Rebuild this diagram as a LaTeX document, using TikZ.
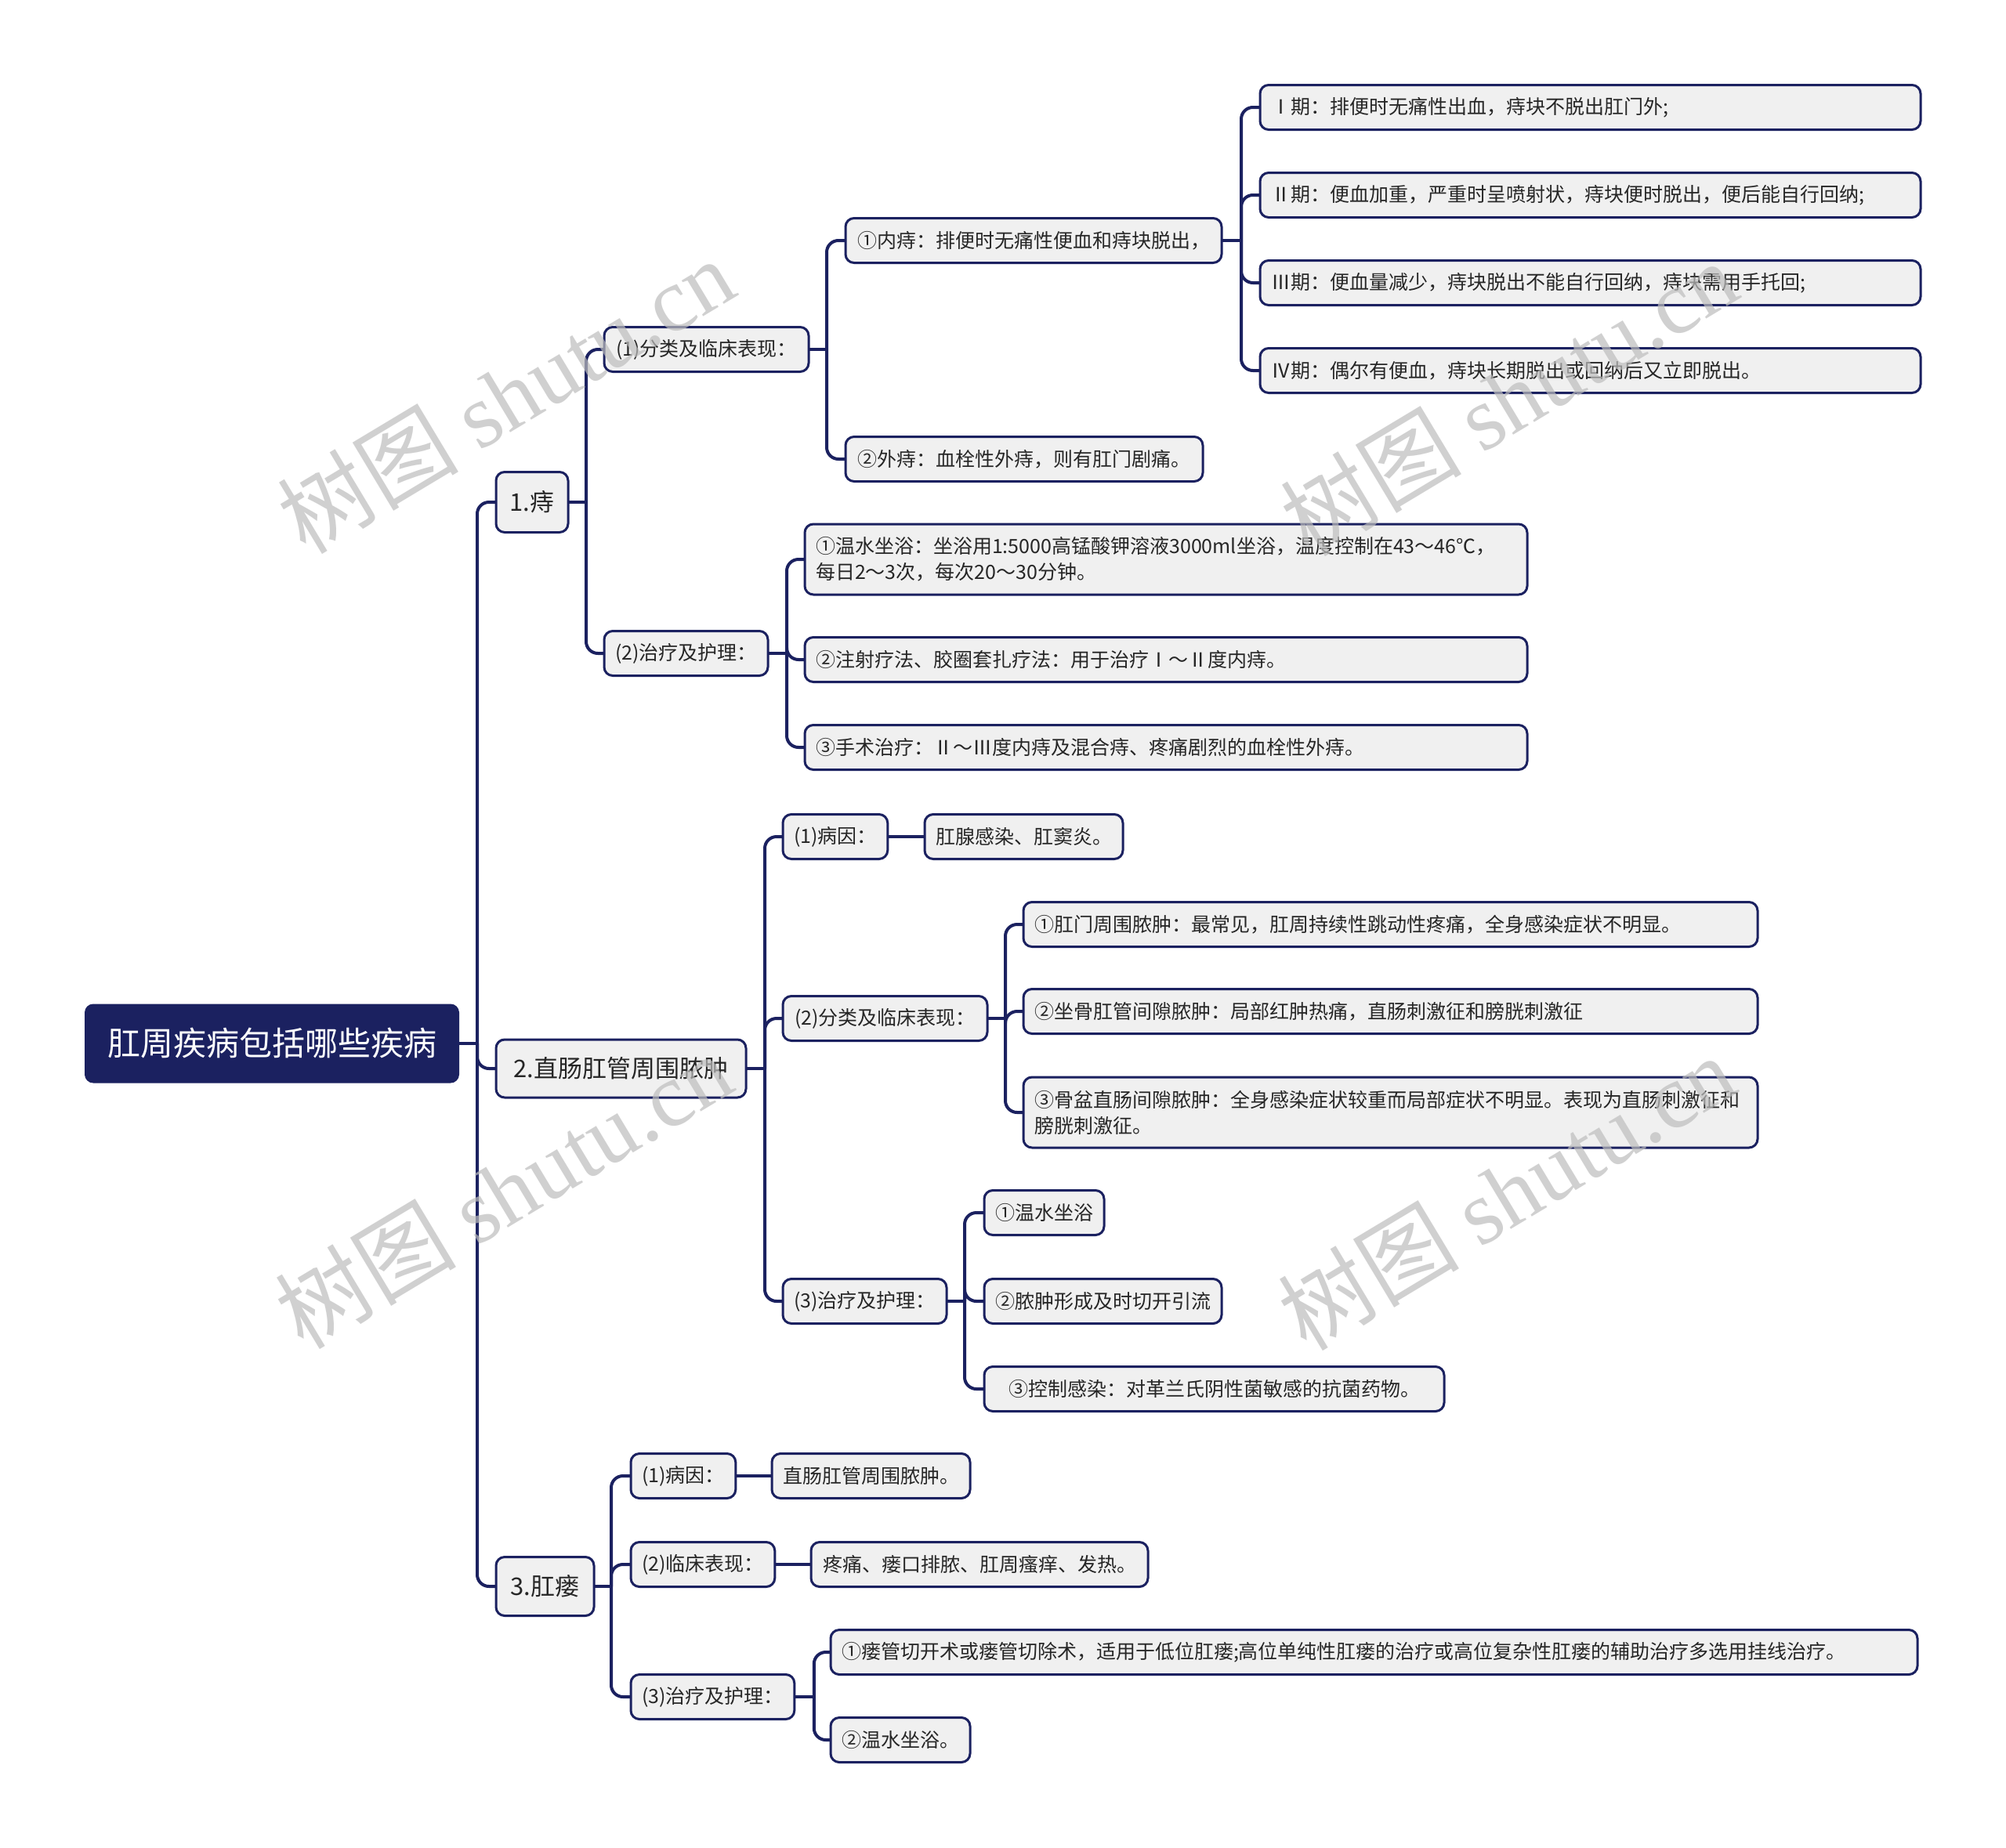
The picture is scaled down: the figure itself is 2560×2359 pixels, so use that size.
\documentclass[tikz,border=0pt]{standalone}
\usepackage{fontspec}
\setmainfont{Noto Sans CJK SC}
\newfontfamily\wmlatin{Liberation Serif}
\usetikzlibrary{backgrounds}
\definecolor{navy}{HTML}{1B2160}
\definecolor{boxfill}{HTML}{F0F0F0}
\definecolor{wmgray}{HTML}{BDBDBD}
\begin{document}
\begin{tikzpicture}[x=1pt,y=-1pt,
  base/.style={draw=navy, line width=3pt, fill=boxfill, rounded corners=11pt, anchor=west,
    outer sep=0pt, inner xsep=14pt, inner ysep=0pt, minimum height=57pt, text=black!85},
  leaf/.style={base, font=\fontsize{25}{33}\selectfont},
  wide/.style={leaf, align=left, text width=#1},
  topic/.style={base, font=\fontsize{31}{37}\selectfont, inner xsep=16pt},
  rootbox/.style={fill=navy, text=white, rounded corners=11pt, anchor=west, outer sep=0pt,
    font=\fontsize{42}{50}\selectfont},
  conn/.style={draw=navy, line width=4pt, rounded corners=15pt},
  wmark/.style={text=wmgray, opacity=0.7, rotate=31, font=\fontsize{116}{120}\selectfont}
]
\useasboundingbox (0,0) rectangle (2560,2359);

% root and main topics
\node[rootbox, minimum width=478pt, minimum height=101pt] (root) at (108,1332) {肛周疾病包括哪些疾病};
\node[topic, minimum width=92pt, minimum height=77pt] (L1a) at (633,641) {1.痔};
\node[topic, minimum width=319pt, minimum height=74pt] (L1b) at (633,1364) {2.直肠肛管周围脓肿};
\node[topic, minimum width=125pt, minimum height=75pt] (L1c) at (633,2025) {3.肛瘘};

% 1. 痔
\node[leaf, minimum width=261pt] (A1) at (771,446) {(1)分类及临床表现：};
\node[leaf, minimum width=209pt] (A2) at (771,834) {(2)治疗及护理：};
\node[leaf, minimum width=480pt] (A11) at (1079,307) {①内痔：排便时无痛性便血和痔块脱出，};
\node[leaf, minimum width=456pt] (A12) at (1079,586) {②外痔：血栓性外痔，则有肛门剧痛。};
\node[wide=815pt] (S1) at (1608,137) {Ⅰ期：排便时无痛性出血，痔块不脱出肛门外;};
\node[wide=815pt] (S2) at (1608,249) {Ⅱ期：便血加重，严重时呈喷射状，痔块便时脱出，便后能自行回纳;};
\node[wide=815pt] (S3) at (1608,361) {Ⅲ期：便血量减少，痔块脱出不能自行回纳，痔块需用手托回;};
\node[wide=815pt] (S4) at (1608,473) {Ⅳ期：偶尔有便血，痔块长期脱出或回纳后又立即脱出。};
\node[wide=894pt, minimum height=90pt] (A21) at (1027,714) {①温水坐浴：坐浴用1:5000高锰酸钾溶液3000ml坐浴，温度控制在43～46℃，\\每日2～3次，每次20～30分钟。};
\node[wide=894pt] (A22) at (1027,842) {②注射疗法、胶圈套扎疗法：用于治疗Ⅰ～Ⅱ度内痔。};
\node[wide=894pt] (A23) at (1027,954) {③手术治疗：Ⅱ～Ⅲ度内痔及混合痔、疼痛剧烈的血栓性外痔。};

% 2. 直肠肛管周围脓肿
\node[leaf, minimum width=132pt] (B1) at (999,1068) {(1)病因：};
\node[leaf, minimum width=252pt] (B11) at (1180,1068) {肛腺感染、肛窦炎。};
\node[leaf, minimum width=261pt] (B2) at (999,1300) {(2)分类及临床表现：};
\node[wide=909pt] (B21) at (1306,1180) {①肛门周围脓肿：最常见，肛周持续性跳动性疼痛，全身感染症状不明显。};
\node[wide=909pt] (B22) at (1306,1291) {②坐骨肛管间隙脓肿：局部红肿热痛，直肠刺激征和膀胱刺激征};
\node[wide=909pt, minimum height=90pt] (B23) at (1306,1420) {③骨盆直肠间隙脓肿：全身感染症状较重而局部症状不明显。表现为直肠刺激征和\\膀胱刺激征。};
\node[leaf, minimum width=209pt] (B3) at (999,1661) {(3)治疗及护理：};
\node[leaf, minimum width=150pt] (B31) at (1256,1548) {①温水坐浴};
\node[leaf, minimum width=303pt] (B32) at (1256,1661) {②脓肿形成及时切开引流};
\node[leaf, minimum width=587pt] (B33) at (1256,1773) {③控制感染：对革兰氏阴性菌敏感的抗菌药物。};

% 3. 肛瘘
\node[leaf, minimum width=132pt] (C1) at (805,1884) {(1)病因：};
\node[leaf, minimum width=251pt] (C11) at (985,1884) {直肠肛管周围脓肿。};
\node[leaf, minimum width=183pt] (C2) at (805,1997) {(2)临床表现：};
\node[leaf, minimum width=430pt] (C21) at (1035,1997) {疼痛、瘘口排脓、肛周瘙痒、发热。};
\node[leaf, minimum width=207pt] (C3) at (805,2166) {(3)治疗及护理：};
\node[wide=1359pt] (C31) at (1060,2109) {①瘘管切开术或瘘管切除术，适用于低位肛瘘;高位单纯性肛瘘的治疗或高位复杂性肛瘘的辅助治疗多选用挂线治疗。};
\node[leaf, minimum width=178pt] (C32) at (1060,2221) {②温水坐浴。};

% connectors
\begin{scope}[on background layer]
  \fill[white] (0,0) rectangle (2560,2359);
  \draw[conn] (root.east) -- ++(23,0) coordinate (t0);
  \foreach \c in {L1a,L1b,L1c} \draw[conn] (t0) |- (\c.west);
  \draw[conn] (L1a.east) -- ++(23,0) coordinate (ta);
  \foreach \c in {A1,A2} \draw[conn] (ta) |- (\c.west);
  \draw[conn] (A1.east) -- ++(23,0) coordinate (ta1);
  \foreach \c in {A11,A12} \draw[conn] (ta1) |- (\c.west);
  \draw[conn] (A11.east) -- ++(25,0) coordinate (ta11);
  \foreach \c in {S1,S2,S3,S4} \draw[conn] (ta11) |- (\c.west);
  \draw[conn] (A2.east) -- ++(24,0) coordinate (ta2);
  \foreach \c in {A21,A22,A23} \draw[conn] (ta2) |- (\c.west);
  \draw[conn] (L1b.east) -- ++(24,0) coordinate (tb);
  \foreach \c in {B1,B2,B3} \draw[conn] (tb) |- (\c.west);
  \draw[conn] (B1.east) -- (B11.west);
  \draw[conn] (B2.east) -- ++(23,0) coordinate (tb2);
  \foreach \c in {B21,B22,B23} \draw[conn] (tb2) |- (\c.west);
  \draw[conn] (B3.east) -- ++(23,0) coordinate (tb3);
  \foreach \c in {B31,B32,B33} \draw[conn] (tb3) |- (\c.west);
  \draw[conn] (L1c.east) -- ++(22,0) coordinate (tc);
  \foreach \c in {C1,C2,C3} \draw[conn] (tc) |- (\c.west);
  \draw[conn] (C1.east) -- (C11.west);
  \draw[conn] (C2.east) -- (C21.west);
  \draw[conn] (C3.east) -- ++(25,0) coordinate (tc3);
  \foreach \c in {C31,C32} \draw[conn] (tc3) |- (\c.west);
\end{scope}

% watermarks
\node[wmark] (wm1) at (645,505) {树图 {\wmlatin shutu.cn}};
\node[wmark] (wm2) at (1925,508) {树图 {\wmlatin shutu.cn}};
\node[wmark] (wm3) at (642,1520) {树图 {\wmlatin shutu.cn}};
\node[wmark] (wm4) at (1922,1522) {树图 {\wmlatin shutu.cn}};
\end{tikzpicture}
\end{document}
